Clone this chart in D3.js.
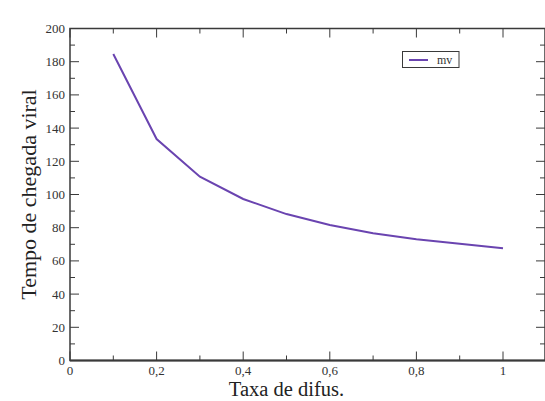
<!DOCTYPE html>
<html><head><meta charset="utf-8">
<script src="https://cdn.jsdelivr.net/npm/d3@7/dist/d3.min.js"></script>
<style>body{margin:0;background:#fff}svg{display:block}</style>
</head><body>
<svg id="c" width="545" height="401"></svg>
<script>
const xValues = [0.1, 0.2, 0.3, 0.4, 0.5, 0.6, 0.7, 0.8, 0.9, 1.0];
const mvValues = [184.6, 133.4, 110.7, 97.3, 88.2, 81.6, 76.6, 73.0, 70.4, 67.6];
const seriesName = "mv";
const xMajorTicks = [0, 0.2, 0.4, 0.6, 0.8, 1];
const xTickLabels = ["0", "0,2", "0,4", "0,6", "0,8", "1"];
const xMinorTicks = [0.1, 0.3, 0.5, 0.7, 0.9];
const yMajorTicks = [0, 20, 40, 60, 80, 100, 120, 140, 160, 180, 200];
const yMinorTicks = [10, 30, 50, 70, 90, 110, 130, 150, 170, 190];
const xTitle = "Taxa de difus.";
const yTitle = "Tempo de chegada viral";

const svg = d3.select("#c");
const L = 70, R = 545, T = 28.5, B = 360.5;
const x = d3.scaleLinear().domain([0, (R - L) / 433]).range([L, R]);
const y = d3.scaleLinear().domain([0, 200]).range([B, T]);
const axCol = "#3a3a3a";
const font = "Liberation Serif, Times New Roman, serif";

// frame
svg.append("rect").attr("x", L).attr("y", T).attr("width", R - L).attr("height", B - T)
  .attr("fill", "none").attr("stroke", axCol).attr("stroke-width", 1.5);
svg.append("line").attr("x1", L).attr("x2", R).attr("y1", B).attr("y2", B)
  .attr("stroke", axCol).attr("stroke-width", 2);

const g = svg.append("g").attr("stroke", axCol).attr("stroke-width", 1);
xMajorTicks.forEach(v => {
  g.append("line").attr("x1", x(v)).attr("x2", x(v)).attr("y1", B).attr("y2", B - 9);
  g.append("line").attr("x1", x(v)).attr("x2", x(v)).attr("y1", T).attr("y2", T + 9);
});
xMinorTicks.forEach(v => {
  g.append("line").attr("x1", x(v)).attr("x2", x(v)).attr("y1", B).attr("y2", B - 5);
  g.append("line").attr("x1", x(v)).attr("x2", x(v)).attr("y1", T).attr("y2", T + 5);
});
yMajorTicks.forEach(v => {
  g.append("line").attr("x1", L).attr("x2", L + 9).attr("y1", y(v)).attr("y2", y(v));
  g.append("line").attr("x1", R).attr("x2", R - 9).attr("y1", y(v)).attr("y2", y(v));
});
yMinorTicks.forEach(v => {
  g.append("line").attr("x1", L).attr("x2", L + 5).attr("y1", y(v)).attr("y2", y(v));
  g.append("line").attr("x1", R).attr("x2", R - 5).attr("y1", y(v)).attr("y2", y(v));
});

xMajorTicks.forEach((v, i) => {
  svg.append("text").attr("x", x(v)).attr("y", B + 14).attr("text-anchor", "middle")
    .style("font-family", font).attr("font-size", 13).attr("fill", "#333").text(xTickLabels[i]);
});
yMajorTicks.forEach(v => {
  svg.append("text").attr("x", L - 5).attr("y", y(v) + 4.5).attr("text-anchor", "end")
    .style("font-family", font).attr("font-size", 13).attr("fill", "#333").text(v);
});

svg.append("text").attr("x", (L + 503) / 2).attr("y", 396).attr("text-anchor", "middle")
  .style("font-family", font).attr("font-size", 20.5).attr("fill", "#222").text(xTitle);
svg.append("text").attr("transform", `translate(36,${(T + B) / 2}) rotate(-90)`)
  .attr("text-anchor", "middle").style("font-family", font).attr("font-size", 22)
  .attr("fill", "#222").text(yTitle);

const lineCol = "#6a44b0";
const data = xValues.map((v, i) => ({ x: v, y: mvValues[i] }));
svg.append("path").datum(data)
  .attr("d", d3.line().x(d => x(d.x)).y(d => y(d.y)))
  .attr("fill", "none").attr("stroke", lineCol).attr("stroke-width", 2);

svg.append("rect").attr("x", 402.5).attr("y", 51.5).attr("width", 56.5).attr("height", 16)
  .attr("fill", "#fff").attr("stroke", axCol).attr("stroke-width", 1);
svg.append("line").attr("x1", 409).attr("x2", 428).attr("y1", 60).attr("y2", 60)
  .attr("stroke", lineCol).attr("stroke-width", 2);
svg.append("text").attr("x", 437).attr("y", 63.5).style("font-family", font)
  .attr("font-size", 12).attr("fill", "#333").text(seriesName);
</script>
</body></html>
